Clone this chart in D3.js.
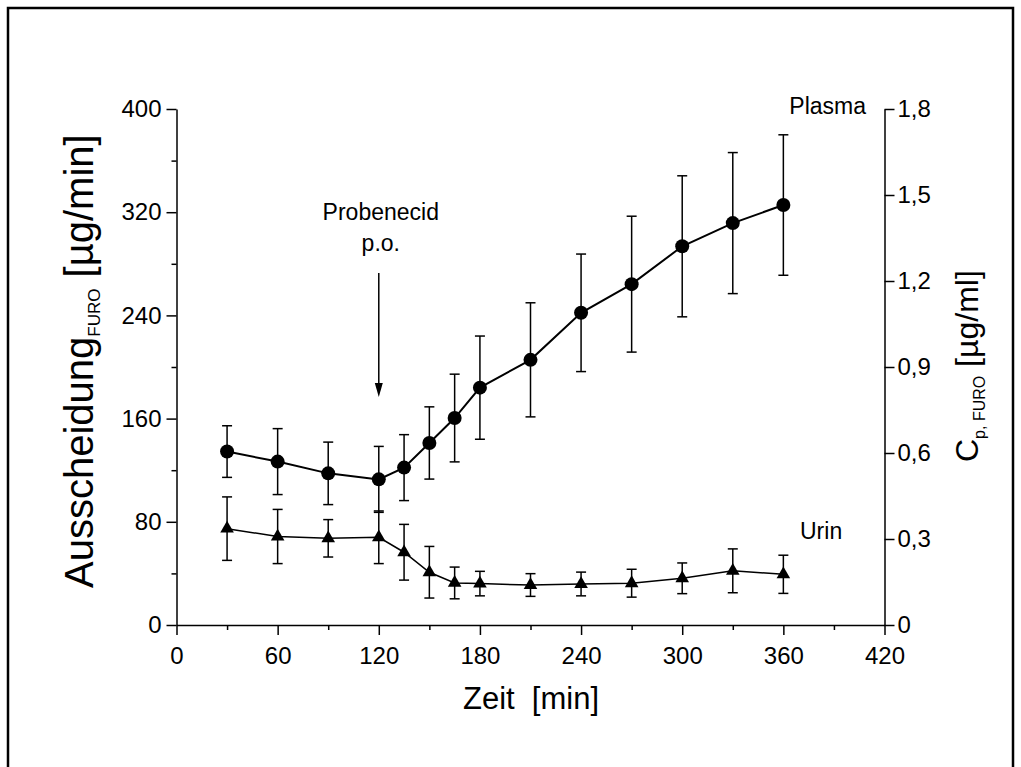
<!DOCTYPE html>
<html>
<head>
<meta charset="utf-8">
<script src="https://cdn.jsdelivr.net/npm/d3@7/dist/d3.min.js"></script>
<style>
  body { margin: 0; background: #fff; }
  svg { display: block; }
  text { font-family: Arial, "Liberation Sans", sans-serif; fill: #000; }
</style>
</head>
<body>
<div id="chart"></div>
<script>
// sampling times [min]
const timeMin = [30, 60, 90, 120, 135, 150, 165, 180, 210, 240, 270, 300, 330, 360];
// plasma concentration [µg/ml] (right axis)
const plasmaMean = [0.605, 0.570, 0.529, 0.508, 0.549, 0.635, 0.722, 0.828, 0.925, 1.089, 1.189, 1.321, 1.402, 1.465];
const plasmaSd   = [0.090, 0.115, 0.109, 0.115, 0.115, 0.126, 0.153, 0.180, 0.199, 0.205, 0.237, 0.246, 0.246, 0.245];
// urinary excretion [µg/min] (left axis)
const urinMean = [74.7, 68.6, 67.2, 68.0, 56.4, 40.9, 32.6, 32.1, 31.0, 31.8, 32.4, 36.2, 42.0, 39.3];
const urinSd   = [24.6, 21.0, 14.5, 20.4, 21.6, 20.0, 12.3, 9.5, 8.8, 9.2, 10.8, 11.9, 17.0, 14.8];

const xTicks = [0, 60, 120, 180, 240, 300, 360, 420];
const xMinorTicks = [30, 90, 150, 210, 270, 330, 390];
const yLeftTicks = [0, 80, 160, 240, 320, 400];
const yLeftMinorTicks = [40, 120, 200, 280, 360];
const yRightTicks = [0, 0.3, 0.6, 0.9, 1.2, 1.5, 1.8];
const yRightLabels = ['0', '0,3', '0,6', '0,9', '1,2', '1,5', '1,8'];
const probenecidTime = 120;

const W = 1021, H = 767;
const plot = { left: 176.5, right: 884.5, top: 109, bottom: 625 };

const svg = d3.select('#chart').append('svg')
  .attr('width', W)
  .attr('height', H);

// outer frame
svg.append('rect')
  .attr('x', 8).attr('y', 8)
  .attr('width', 1005).attr('height', 800)
  .attr('fill', 'none')
  .attr('stroke', '#000')
  .attr('stroke-width', 2.5);

const x = d3.scaleLinear().domain([0, 420]).range([plot.left, plot.right]);
const yL = d3.scaleLinear().domain([0, 400]).range([plot.bottom, plot.top]);
const yR = d3.scaleLinear().domain([0, 1.8]).range([plot.bottom, plot.top]);

const tickFont = '24px';

// x axis
const gx = svg.append('g')
  .attr('transform', `translate(0,${plot.bottom})`)
  .call(d3.axisBottom(x).tickValues(xTicks).tickSize(10).tickSizeOuter(0).tickPadding(12));
svg.append('g')
  .attr('transform', `translate(0,${plot.bottom})`)
  .call(d3.axisBottom(x).tickValues(xMinorTicks).tickSize(5).tickFormat(''))
  .select('.domain').remove();

// left axis
const gyl = svg.append('g')
  .attr('transform', `translate(${plot.left},0)`)
  .call(d3.axisLeft(yL).tickValues(yLeftTicks).tickSize(10).tickSizeOuter(0).tickPadding(5));
svg.append('g')
  .attr('transform', `translate(${plot.left},0)`)
  .call(d3.axisLeft(yL).tickValues(yLeftMinorTicks).tickSize(5).tickFormat(''))
  .select('.domain').remove();

// right axis
const gyr = svg.append('g')
  .attr('transform', `translate(${plot.right},0)`)
  .call(d3.axisRight(yR).tickValues(yRightTicks).tickSize(10).tickSizeOuter(0).tickPadding(3)
    .tickFormat((d, i) => yRightLabels[i]));

[gx, gyl, gyr].forEach(g => {
  g.selectAll('text').style('font-size', tickFont).style('font-family', 'Arial, "Liberation Sans", sans-serif');
});
svg.selectAll('g line, g path.domain').attr('stroke', '#000').attr('stroke-width', 1.5);

// axis titles
svg.append('text')
  .attr('x', 531).attr('y', 709)
  .attr('text-anchor', 'middle')
  .style('font-size', '31px')
  .attr('xml:space', 'preserve')
  .text('Zeit  [min]');

const leftTitle = svg.append('text')
  .attr('transform', 'translate(93,588) rotate(-90)')
  .attr('text-anchor', 'start')
  .style('font-size', '40px');
leftTitle.append('tspan').text('Ausscheidung');
leftTitle.append('tspan').attr('dy', 7).style('font-size', '17px').text('FURO');
leftTitle.append('tspan').attr('dy', -7).text(' [µg/min]');

const rightTitle = svg.append('text')
  .attr('transform', 'translate(978,462) rotate(-90)')
  .attr('text-anchor', 'start')
  .style('font-size', '32px');
rightTitle.append('tspan').text('C');
rightTitle.append('tspan').attr('dy', 7).style('font-size', '16px').text('p, FURO');
rightTitle.append('tspan').attr('dy', -7).text(' [µg/ml]');

// error bars
const capW = 5;
function errorBars(values, sds, scale, cls) {
  const g = svg.append('g').attr('class', cls);
  const rows = timeMin.map((t, i) => ({ t, v: values[i], s: sds[i] }));
  g.selectAll('line.v').data(rows).join('line').attr('class', 'v')
    .attr('x1', d => x(d.t)).attr('x2', d => x(d.t))
    .attr('y1', d => scale(d.v - d.s)).attr('y2', d => scale(d.v + d.s));
  g.selectAll('line.top').data(rows).join('line').attr('class', 'top')
    .attr('x1', d => x(d.t) - capW).attr('x2', d => x(d.t) + capW)
    .attr('y1', d => scale(d.v + d.s)).attr('y2', d => scale(d.v + d.s));
  g.selectAll('line.bot').data(rows).join('line').attr('class', 'bot')
    .attr('x1', d => x(d.t) - capW).attr('x2', d => x(d.t) + capW)
    .attr('y1', d => scale(d.v - d.s)).attr('y2', d => scale(d.v - d.s));
  g.selectAll('line').attr('stroke', '#000').attr('stroke-width', 1.5);
}
errorBars(plasmaMean, plasmaSd, yR, 'err-plasma');
errorBars(urinMean, urinSd, yL, 'err-urin');

// connecting lines
const plasmaLine = d3.line().x((d, i) => x(timeMin[i])).y(d => yR(d));
svg.append('path').datum(plasmaMean)
  .attr('d', plasmaLine).attr('fill', 'none').attr('stroke', '#000').attr('stroke-width', 2);
const urinLine = d3.line().x((d, i) => x(timeMin[i])).y(d => yL(d));
svg.append('path').datum(urinMean)
  .attr('d', urinLine).attr('fill', 'none').attr('stroke', '#000').attr('stroke-width', 1.5);

// markers
svg.selectAll('circle.plasma').data(plasmaMean).join('circle')
  .attr('class', 'plasma')
  .attr('cx', (d, i) => x(timeMin[i]))
  .attr('cy', d => yR(d))
  .attr('r', 7)
  .attr('fill', '#000');

const tri = d3.symbol().type(d3.symbolTriangle).size(80);
svg.selectAll('path.urin').data(urinMean).join('path')
  .attr('class', 'urin')
  .attr('d', tri)
  .attr('transform', (d, i) => `translate(${x(timeMin[i])},${yL(d)})`)
  .attr('fill', '#000');

// annotations
svg.append('text').attr('x', x(probenecidTime) + 2).attr('y', 220)
  .attr('text-anchor', 'middle').style('font-size', '23px').text('Probenecid');
svg.append('text').attr('x', x(probenecidTime) + 2).attr('y', 251)
  .attr('text-anchor', 'middle').style('font-size', '23px').text('p.o.');

const ax = x(probenecidTime);
svg.append('line')
  .attr('x1', ax).attr('x2', ax)
  .attr('y1', 273).attr('y2', 384)
  .attr('stroke', '#000').attr('stroke-width', 1.5);
svg.append('path')
  .attr('d', `M${ax - 4},383 L${ax + 4},383 L${ax},397 Z`)
  .attr('fill', '#000');

svg.append('text').attr('x', 866).attr('y', 114)
  .attr('text-anchor', 'end').style('font-size', '23px').text('Plasma');
svg.append('text').attr('x', 800).attr('y', 539)
  .style('font-size', '23px').text('Urin');
</script>
</body>
</html>
